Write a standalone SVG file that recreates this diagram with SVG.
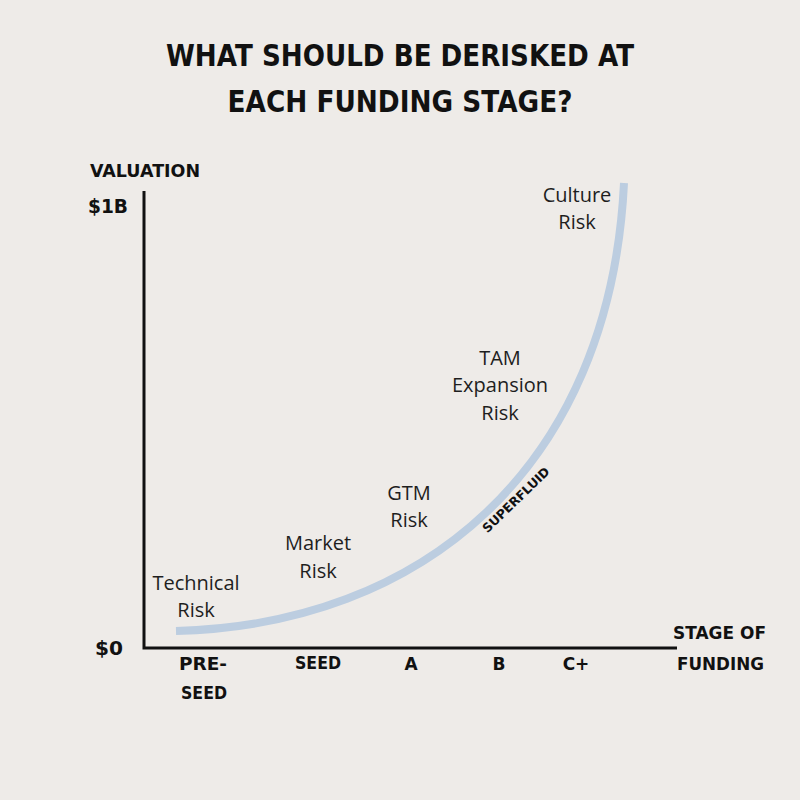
<svg xmlns="http://www.w3.org/2000/svg" width="800" height="800" viewBox="0 0 800 800">
<style>
.hand{font-family:"DejaVu Sans","Liberation Sans",sans-serif;font-weight:bold;fill:#111;}
.lbl{font-family:"Open Sans","Liberation Sans",sans-serif;font-size:20px;fill:#1e1e1e;text-anchor:middle;}
.axis{stroke:#111;stroke-width:3;fill:none;}
</style>
<rect width="800" height="800" fill="#eeebe8"/>
<g id="title">
<text class="hand" x="400" y="66" font-size="30" text-anchor="middle" textLength="468" lengthAdjust="spacingAndGlyphs">WHAT SHOULD BE DERISKED AT</text>
<text class="hand" x="400" y="112" font-size="30" text-anchor="middle" textLength="345" lengthAdjust="spacingAndGlyphs">EACH FUNDING STAGE?</text>
</g>
<g id="axes">
<path class="axis" d="M144,191 V648 H677"/>
</g>
<g id="axis-labels">
<text class="hand" x="90" y="177" font-size="17" textLength="110" lengthAdjust="spacingAndGlyphs">VALUATION</text>
<text class="hand" x="88" y="213" font-size="19" textLength="40" lengthAdjust="spacingAndGlyphs">$1B</text>
<text class="hand" x="95" y="655" font-size="19" textLength="28" lengthAdjust="spacingAndGlyphs">$0</text>
<text class="hand" x="179" y="670" font-size="17" textLength="48" lengthAdjust="spacingAndGlyphs">PRE-</text>
<text class="hand" x="181" y="699" font-size="17" textLength="46" lengthAdjust="spacingAndGlyphs">SEED</text>
<text class="hand" x="295" y="669" font-size="17" textLength="46" lengthAdjust="spacingAndGlyphs">SEED</text>
<text class="hand" x="411" y="670" font-size="17" text-anchor="middle">A</text>
<text class="hand" x="499" y="670" font-size="17" text-anchor="middle">B</text>
<text class="hand" x="576" y="670" font-size="17" text-anchor="middle">C+</text>
<text class="hand" x="673" y="639" font-size="17" textLength="93" lengthAdjust="spacingAndGlyphs">STAGE OF</text>
<text class="hand" x="677" y="670" font-size="17" textLength="87" lengthAdjust="spacingAndGlyphs">FUNDING</text>
</g>
<g id="connectors">
<path d="M176,631 C420,625 610,470 624,183" fill="none" stroke="#bccde0" stroke-width="8"/>
</g>
<g id="superfluid">
<text class="hand" font-size="12.5" text-anchor="middle" transform="translate(519,503) rotate(-44)">SUPERFLUID</text>
</g>
<g id="technical-risk"><text class="lbl" x="196" y="590">Technical</text><text class="lbl" x="196" y="617">Risk</text></g>
<g id="market-risk"><text class="lbl" x="318" y="550">Market</text><text class="lbl" x="318" y="578">Risk</text></g>
<g id="gtm-risk"><text class="lbl" x="409" y="500">GTM</text><text class="lbl" x="409" y="527">Risk</text></g>
<g id="tam-risk"><text class="lbl" x="500" y="365">TAM</text><text class="lbl" x="500" y="392">Expansion</text><text class="lbl" x="500" y="420">Risk</text></g>
<g id="culture-risk"><text class="lbl" x="577" y="202">Culture</text><text class="lbl" x="577" y="229">Risk</text></g>
</svg>
